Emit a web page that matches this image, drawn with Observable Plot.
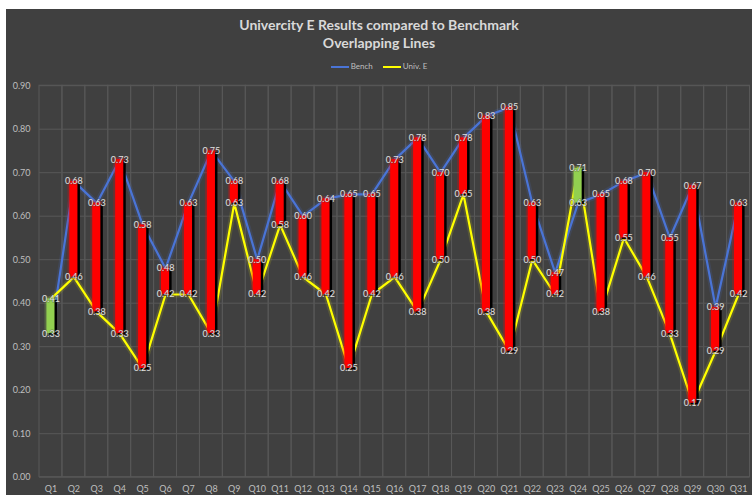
<!DOCTYPE html>
<html><head><meta charset="utf-8">
<script src="https://cdn.jsdelivr.net/npm/d3@7"></script>
<script src="https://cdn.jsdelivr.net/npm/@observablehq/plot@0.6"></script>
<style>
html,body{margin:0;padding:0;background:#fff;}
#chart{position:absolute;left:6px;top:9px;width:746px;height:486px;background:#404040;font-family:Lato,"Open Sans",sans-serif;overflow:hidden;}
#title{position:absolute;left:0;top:7px;width:100%;text-align:center;color:#d9d9d9;font-weight:bold;font-size:14px;line-height:18px;}
#legend{position:absolute;left:0;top:52px;width:100%;display:flex;justify-content:center;align-items:center;gap:10px;color:#bfbfbf;font-size:8px;}
#legend span.sw{display:inline-block;width:18px;height:2px;margin-right:2px;vertical-align:middle;}
#plot{position:absolute;left:0;top:67px;}
</style></head>
<body>
<div id="chart">
  <div id="title">Univercity E Results compared to Benchmark<br>Overlapping Lines</div>
  <div id="legend"></div>
  <div id="plot"></div>
</div>
<script>
const questions = ["Q1","Q2","Q3","Q4","Q5","Q6","Q7","Q8","Q9","Q10","Q11","Q12","Q13","Q14","Q15","Q16","Q17","Q18","Q19","Q20","Q21","Q22","Q23","Q24","Q25","Q26","Q27","Q28","Q29","Q30","Q31"];
const bench = [0.33,0.68,0.63,0.73,0.58,0.48,0.63,0.75,0.68,0.50,0.68,0.60,0.64,0.65,0.65,0.73,0.78,0.70,0.78,0.83,0.85,0.63,0.47,0.63,0.65,0.68,0.70,0.55,0.67,0.39,0.63];
const univ  = [0.41,0.46,0.38,0.33,0.25,0.42,0.42,0.33,0.63,0.42,0.58,0.46,0.42,0.25,0.42,0.46,0.38,0.50,0.65,0.38,0.29,0.50,0.42,0.71,0.38,0.55,0.46,0.33,0.17,0.29,0.42];
const yTicks = [0,0.1,0.2,0.3,0.4,0.5,0.6,0.7,0.8,0.9];
const seriesNames = ["Bench","Univ. E"];
const seriesColors = ["#4a74d6","#ffff00"];

const rows = questions.map((q,i)=>({q, bench: bench[i], univ: univ[i],
  lo: Math.min(bench[i], univ[i]), hi: Math.max(bench[i], univ[i]), up: univ[i] > bench[i]}));

const leg = document.getElementById("legend");
seriesNames.forEach((n,i)=>{
  const s = document.createElement("span");
  s.innerHTML = `<span class="sw" style="background:${seriesColors[i]}"></span>${n}`;
  leg.appendChild(s);
});

const grid = "#585858";
const chart = Plot.plot({
  width: 746, height: 419,
  marginLeft: 33, marginRight: 2.5, marginTop: 9.2, marginBottom: 18.3,
  style: {background: "transparent", color: "#bfbfbf", fontFamily: "Lato, 'Open Sans', sans-serif", fontSize: "9px"},
  x: {type: "band", domain: questions, padding: 0, round: false, label: null, tickSize: 0, tickPadding: 8},
  y: {domain: [0, 0.9], ticks: yTicks, tickFormat: ".2f", label: null, tickSize: 0, tickPadding: 9},
  marks: [
    Plot.cell(questions, {x: d => d, fill: "none", stroke: grid, strokeWidth: 1, inset: 0}),
    Plot.ruleY(yTicks, {stroke: grid, strokeWidth: 1}),
    Plot.line(rows, {x: "q", y: "bench", stroke: seriesColors[0], strokeWidth: 6, strokeOpacity: 0.15}),
    Plot.line(rows, {x: "q", y: "univ", stroke: seriesColors[1], strokeWidth: 6, strokeOpacity: 0.12}),
    Plot.line(rows, {x: "q", y: "bench", stroke: seriesColors[0], strokeWidth: 2.2}),
    Plot.line(rows, {x: "q", y: "univ", stroke: seriesColors[1], strokeWidth: 2.2}),
    Plot.barY(rows, {x: "q", y1: "lo", y2: "hi", fill: d => d.up ? "#92d050" : "#ff0000", fillOpacity: 0.25, insetLeft: 5.5, insetRight: 5.5, insetTop: -2, insetBottom: -2}),
    Plot.barY(rows, {x: "q", y1: "lo", y2: "hi", fill: "#000", insetLeft: 7.4, insetRight: 7.4, dx: 2.5, dy: 1.5}),
    Plot.barY(rows, {x: "q", y1: "lo", y2: "hi", fill: d => d.up ? "#92d050" : "#ff0000", insetLeft: 7.4, insetRight: 7.4}),
    Plot.text(rows, {x: "q", y: "hi", text: d => d3.format(".2f")(d.hi), fill: "#e0e0e0", fontSize: 9, stroke: "#404040", strokeWidth: 1.5, strokeOpacity: 0.35}),
    Plot.text(rows, {x: "q", y: "lo", text: d => d3.format(".2f")(d.lo), fill: "#e0e0e0", fontSize: 9, stroke: "#404040", strokeWidth: 1.5, strokeOpacity: 0.35})
  ]
});
document.getElementById("plot").appendChild(chart);
</script>
</body></html>
